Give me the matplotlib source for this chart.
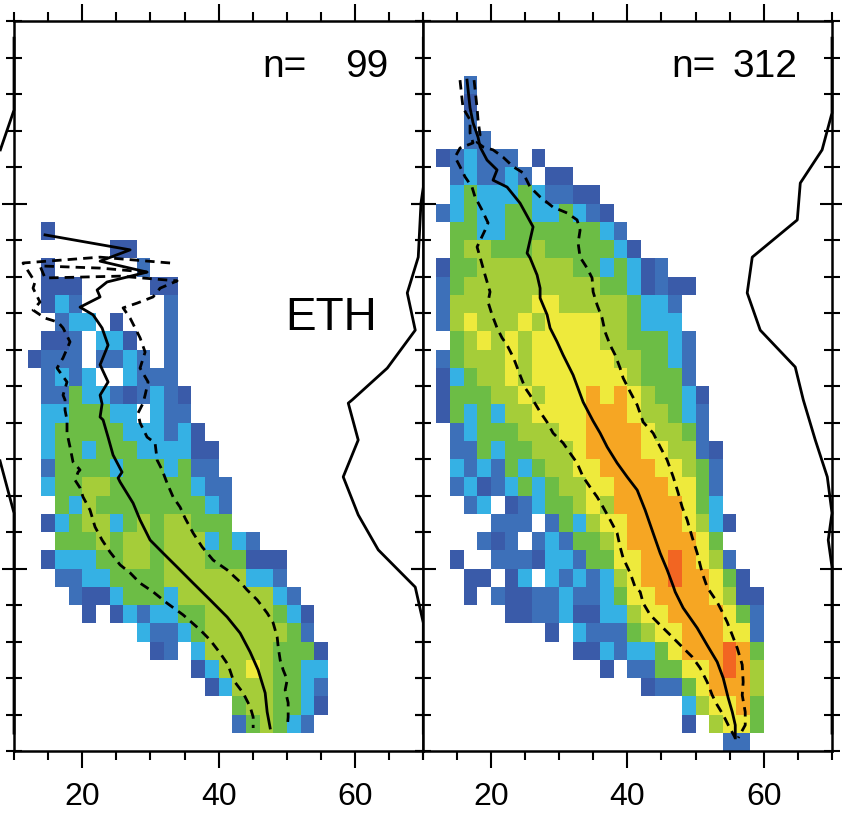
import numpy as np
import matplotlib
matplotlib.use("Agg")
import matplotlib.pyplot as plt
from matplotlib.colors import ListedColormap, BoundaryNorm
from matplotlib.ticker import MultipleLocator

plt.rcParams['font.family'] = ['Liberation Sans', 'DejaVu Sans']

# bins: x 10..70 step 2, level 5..25 step 0.5
x_edges = np.arange(10, 71, 2)
y_edges = np.arange(5, 25.01, 0.5)

# colour classes 1..8, low -> high counts
class_colors = ['#3a5ba9', '#3d70b9', '#35b1e4', '#6cbd45',
                '#a5cd39', '#eeea3c', '#f6a623', '#f26522']

# (row counted from top, first column, classes) -- '.' = empty bin
left_rows = [
    (11, 2, "1"), (12, 7, "11"), (13, 2, "1......2"), (14, 2, "111.....11"),
    (15, 2, "132......2"), (16, 3, "233.1...2"), (17, 2, "112.331..2"),
    (18, 1, "1222.2232.2"), (19, 2, "2323..3222"), (20, 2, "22433212321"),
    (21, 2, "3344433.322"), (22, 2, "344444333231"), (23, 2, "3443444333311"),
    (24, 2, "2444434443422"), (25, 2, "34455444444322"), (26, 3, "4354444444432"),
    (27, 2, "13455345455444"), (28, 3, "444545545553432"),
    (29, 2, "133344554555444111"), (30, 3, "22334444555555332"),
    (31, 4, "21134443555555532"), (32, 5, "1.132334455555431"),
    (33, 9, "3223455555542"), (34, 10, "12.3555554441"), (35, 13, "1355654433"),
    (36, 14, "135554432"), (37, 16, "4554431"), (38, 16, "245432"),
]

right_rows = [
    (3, 3, "2"), (4, 3, "1"), (5, 3, "2"), (6, 3, "22"), (7, 1, "123222.1"),
    (8, 2, "232232.11"), (9, 2, "34333432211"), (10, 1, "2343344334321"),
    (11, 2, "4433444444432"), (12, 2, "45544454444431"),
    (13, 1, "14455555554434312"), (14, 1, "2455555555554431211"),
    (15, 1, "255555566555554332"), (16, 1, "256555656666554333"),
    (17, 2, "456565666665544432"), (18, 1, "2455565666666554432"),
    (19, 1, "1345565666666654442"), (20, 1, "14445565666767654431"),
    (21, 1, "14343556666777655432"), (22, 2, "2344455566777765542"),
    (23, 2, "22434455567777665521"), (24, 2, "32324345566777766542"),
    (25, 2, "23123434556677776642"), (26, 3, "23.1234456577777643"),
    (27, 5, "222.24356677776531"), (28, 4, "212.23244567777764"),
    (29, 2, "1..222133244667787652"),
    (30, 3, "11.13.323235677877641"), (31, 3, "1.21122322346677776511"),
    (32, 6, "1122311335667777642"), (33, 9, "1.32224566777662"),
    (34, 11, "11323346777874"), (35, 13, "1.2244667875"), (36, 16, "122467775"),
    (37, 19, "356674"), (38, 19, "1.5664"), (39, 22, "22"),
]

# median and quartile curves (value, level)
left_med_x = [14.55, 27.02, 22.62, 29.51, 23.64, 22.18, 22.62, 19.68, 21.59, 22.91, 23.79, 22.62,
              23.79, 22.62, 22.91, 22.62, 23.06, 23.79, 24.52, 25.84, 25.26, 25.55, 27.46, 28.48,
              29.95, 31.86, 33.91, 36.26, 38.75, 41.25, 43.15, 44.62, 45.79, 46.82, 47.11, 47.55]
left_med_y = [19.14, 18.73, 18.42, 18.12, 17.85, 17.63, 17.44, 17.16, 16.95, 16.59, 16.12, 15.58,
              15.11, 14.75, 14.51, 14.15, 14.07, 13.60, 13.11, 12.64, 12.48, 12.37, 11.79, 11.33,
              10.78, 10.42, 10.04, 9.60, 9.14, 8.67, 8.23, 7.71, 7.22, 6.59, 6.07, 5.63]
left_q25_x = [32.88, 22.62, 11.32, 13.08, 12.79, 13.81, 12.79, 14.55, 16.45, 17.19, 18.21, 17.19,
              16.31, 17.77, 17.19, 17.48, 17.48, 17.77, 17.77, 18.21, 18.65, 19.68, 19.39, 18.95,
              19.68, 20.12, 21.15, 21.88, 22.91, 24.08, 25.55, 27.02, 28.48, 30.39, 32.44, 34.79,
              37.28, 38.75, 40.22, 41.39, 42.13, 43.59, 44.62, 45.06, 45.06]
left_q25_y = [18.37, 18.53, 18.37, 17.85, 17.68, 17.30, 17.08, 16.86, 16.75, 16.59, 16.21, 15.77,
              15.49, 15.11, 14.75, 14.62, 14.34, 14.07, 13.71, 13.33, 12.92, 12.70, 12.64, 12.42,
              12.21, 11.96, 11.60, 11.14, 10.78, 10.45, 10.10, 9.88, 9.60, 9.36, 9.05, 8.73,
              8.32, 8.04, 7.68, 7.36, 6.95, 6.59, 6.21, 5.93, 5.63]
left_q75_x = [29.51, 22.62, 13.81, 14.55, 25.55, 33.91, 31.42, 30.39, 28.04, 25.99, 27.02, 28.48,
              29.22, 28.48, 29.66, 29.22, 28.92, 28.19, 28.48, 29.51, 30.68, 30.98, 31.71, 32.44,
              33.32, 34.35, 35.08, 36.26, 37.58, 39.19, 41.25, 43.15, 44.18, 45.65, 47.11, 47.99,
              48.58, 48.73, 49.02, 49.46, 50.05, 49.75, 50.19, 50.19, 50.05]
left_q75_y = [18.12, 18.23, 18.29, 17.96, 18.01, 17.88, 17.68, 17.44, 17.27, 17.14, 16.86, 16.32,
              15.93, 15.49, 15.11, 14.75, 14.53, 14.26, 13.99, 13.60, 13.44, 12.97, 12.70, 12.34,
              11.96, 11.68, 11.38, 10.97, 10.59, 10.23, 9.96, 9.63, 9.41, 9.14, 8.78, 8.51,
              8.12, 7.85, 7.49, 7.22, 6.95, 6.67, 6.32, 5.93, 5.63]

right_med_x = [16.50, 16.94, 17.38, 18.11, 18.41, 19.43, 20.90, 20.31, 22.37, 24.27, 26.18, 25.30,
               25.74, 26.77, 27.21, 27.21, 28.24, 28.67, 29.70, 30.58, 32.05, 33.52, 34.98, 36.01,
               37.04, 38.50, 39.97, 41.44, 42.61, 43.78, 44.81, 45.84, 46.72, 47.01, 48.18, 50.24,
               51.70, 53.17, 54.05, 54.79, 55.38, 55.82, 55.82]
right_med_y = [23.38, 22.62, 22.21, 21.82, 21.55, 21.19, 20.92, 20.64, 20.45, 20.01, 19.36, 18.64,
               18.51, 18.04, 17.68, 17.41, 16.95, 16.59, 16.21, 15.85, 15.30, 14.56, 14.04, 13.71,
               13.33, 12.89, 12.51, 12.15, 11.60, 10.97, 10.42, 9.96, 9.52, 9.36, 8.92, 8.37,
               7.90, 7.44, 7.00, 6.45, 6.07, 5.71, 5.36]
right_q25_x = [15.47, 15.91, 16.94, 16.94, 17.38, 15.47, 14.74, 15.47, 16.21, 17.23, 17.67, 18.70,
               19.58, 19.14, 17.97, 18.41, 19.14, 19.87, 19.58, 20.17, 20.90, 21.63, 22.37, 23.10,
               23.54, 24.27, 25.01, 25.74, 27.21, 28.23, 29.11, 30.58, 31.61, 32.63, 33.51, 34.54,
               35.57, 36.45, 37.48, 38.50, 38.94, 39.38, 40.41, 41.14, 41.88, 42.32, 43.34, 44.81,
               46.28, 48.04, 49.50, 50.68, 51.70, 52.44, 53.17, 54.05, 54.79, 55.81]
right_q25_y = [23.38, 22.62, 22.29, 21.93, 21.66, 21.52, 21.27, 21.01, 20.73, 20.45, 20.18, 19.82,
               19.47, 19.27, 18.81, 18.53, 18.04, 17.58, 17.30, 16.95, 16.59, 16.32, 16.12, 15.85,
               15.66, 15.30, 14.95, 14.75, 14.29, 14.01, 13.71, 13.44, 13.16, 12.89, 12.51, 12.23,
               11.96, 11.68, 11.33, 10.97, 10.59, 10.29, 9.88, 9.49, 9.36, 9.05, 8.73, 8.45,
               8.18, 7.85, 7.58, 7.27, 6.89, 6.53, 6.26, 5.99, 5.71, 5.36]
right_q75_x = [17.53, 17.97, 18.11, 18.41, 17.97, 18.85, 20.31, 21.78, 23.25, 24.71, 25.74, 27.21,
               29.11, 31.17, 32.63, 33.07, 32.78, 33.07, 34.10, 34.83, 34.98, 35.57, 36.30, 36.74,
               37.48, 38.21, 38.94, 39.38, 40.41, 41.44, 42.32, 43.78, 44.81, 45.84, 46.72, 47.45,
               48.04, 48.77, 49.50, 50.24, 50.97, 51.70, 52.15, 53.17, 53.91, 54.64, 55.37, 56.11,
               56.84, 56.98, 56.84, 57.28, 57.28, 56.25]
right_q75_y = [23.38, 22.62, 22.29, 21.88, 21.68, 21.55, 21.47, 21.27, 21.01, 20.84, 20.45, 20.18,
               19.90, 19.74, 19.55, 19.27, 18.92, 18.53, 18.23, 17.96, 17.58, 17.22, 16.86, 16.48,
               16.12, 15.85, 15.49, 15.22, 14.84, 14.48, 14.01, 13.71, 13.33, 12.97, 12.51, 12.07,
               11.68, 11.33, 10.86, 10.42, 9.88, 9.49, 9.36, 9.08, 8.81, 8.53, 8.18, 7.82,
               7.36, 6.89, 6.53, 6.07, 5.71, 5.36]

# side profiles drawn against the right axis
left_prof_x = [70.0, 70.0, 69.66, 69.26, 67.65, 68.82, 64.72, 59.58, 59.0, 60.46, 58.26, 60.46,
               63.40, 68.82, 70.0, 70.0]
left_prof_y = [24.53, 20.45, 20.01, 18.53, 17.55, 16.53, 15.49, 14.62, 14.53, 13.52, 12.51, 11.47,
               10.51, 9.49, 8.51, 5.49]
right_prof_x = [70.0, 70.0, 68.55, 65.35, 64.91, 58.31, 57.57, 59.48, 64.61, 65.79, 67.55, 69.31,
                70.0, 69.45, 70.0, 70.0]
right_prof_y = [24.53, 22.48, 21.47, 20.56, 19.55, 18.53, 17.55, 16.53, 15.52, 14.62, 13.52, 12.51,
                11.52, 10.78, 10.04, 5.49]
# tail of the neighbouring panel's profile at the left edge
edge_top_x, edge_top_y = [10.0, 10.0, 8.0], [24.53, 22.56, 21.47]
edge_bot_x, edge_bot_y = [7.95, 10.0, 10.0], [12.95, 11.52, 5.49]

panels = [
    dict(rows=left_rows, n=99, med=(left_med_x, left_med_y), q25=(left_q25_x, left_q25_y),
         q75=(left_q75_x, left_q75_y), prof=(left_prof_x, left_prof_y)),
    dict(rows=right_rows, n=312, med=(right_med_x, right_med_y), q25=(right_q25_x, right_q25_y),
         q75=(right_q75_x, right_q75_y), prof=(right_prof_x, right_prof_y)),
]


def make_grid(rows):
    grid = np.full((len(y_edges) - 1, len(x_edges) - 1), np.nan)
    for k, start, codes in rows:
        for j, c in enumerate(codes):
            if c != '.':
                grid[len(y_edges) - 2 - k, start + j] = int(c)
    return np.ma.masked_invalid(grid)


cmap = ListedColormap(class_colors)
norm = BoundaryNorm(np.arange(0.5, 9.5, 1), cmap.N)

fig = plt.figure(figsize=(8.42, 8.14), dpi=100)
lefts = [14 / 842, 422.7 / 842]
lw = 2.0
dash = (0, (3.4, 2.2))

for i, p in enumerate(panels):
    ax = fig.add_axes([lefts[i], 63 / 814, 409.3 / 842, 730 / 814])
    ax.pcolormesh(x_edges, y_edges, make_grid(p['rows']), cmap=cmap, norm=norm,
                  shading='flat', edgecolors='none', antialiased=False, zorder=1)
    ax.plot(*p['med'], color='black', lw=lw, zorder=3)
    ax.plot(*p['q25'], color='black', lw=lw, ls=dash, zorder=3)
    ax.plot(*p['q75'], color='black', lw=lw, ls=dash, zorder=3)
    ax.plot(*p['prof'], color='black', lw=lw, zorder=4, clip_on=False)

    ax.set_xlim(10, 70)
    ax.set_ylim(5, 25)
    ax.xaxis.set_major_locator(MultipleLocator(20))
    ax.xaxis.set_minor_locator(MultipleLocator(5))
    ax.yaxis.set_major_locator(MultipleLocator(10))
    ax.yaxis.set_minor_locator(MultipleLocator(1))
    ax.tick_params(axis='x', which='both', direction='out', top=True, bottom=True,
                   width=1.5, labelsize=23, pad=10)
    ax.tick_params(axis='x', which='major', length=12)
    ax.tick_params(axis='x', which='minor', length=6.5)
    ax.tick_params(axis='y', which='both', direction='inout', left=True, right=True,
                   width=1.5, labelleft=False)
    ax.tick_params(axis='y', which='major', length=18)
    ax.tick_params(axis='y', which='minor', length=11)
    for s in ax.spines.values():
        s.set_linewidth(1.8)
    ax.set_xticklabels(['' if t not in (20, 40, 60) else str(int(t)) for t in ax.get_xticks()])

    ax.text(46.4, 23.47, "n=", fontsize=28, ha='left', va='baseline')
    ax.text(64.9, 23.47, str(p['n']), fontsize=28, ha='right', va='baseline')

    if i == 0:
        ax.text(49.75, 16.53, "ETH", fontsize=33, ha='left', va='baseline')
        ax.plot(edge_top_x, edge_top_y, color='black', lw=lw, clip_on=False)
        ax.plot(edge_bot_x, edge_bot_y, color='black', lw=lw, clip_on=False)

fig.savefig("out.png", dpi=100)
